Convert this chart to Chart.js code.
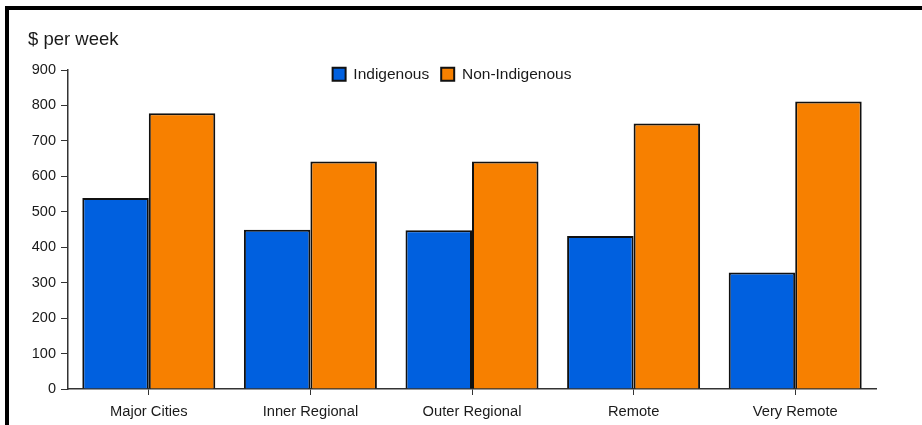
<!DOCTYPE html>
<html>
<head>
<meta charset="utf-8">
<script src="https://cdn.jsdelivr.net/npm/chart.js@4.4.0/dist/chart.umd.min.js"></script>
<style>
  body { margin: 0; background: #fff; }
  #frame {
    position: absolute; left: 5px; top: 6px;
    width: 917px; height: 419px;
    border-top: 4px solid #000; border-left: 4px solid #000;
  }
  #wrap { position: absolute; left: 0; top: 0; width: 913px; height: 415px; }
</style>
</head>
<body>
<div id="frame"><div id="wrap"><canvas id="myChart"></canvas></div></div>
<script>
const categories = ['Major Cities', 'Inner Regional', 'Outer Regional', 'Remote', 'Very Remote'];
const indigenous = [539, 449, 448, 432, 329];
const nonIndigenous = [778, 642, 642, 749, 811];
const yTicks = [0, 100, 200, 300, 400, 500, 600, 700, 800, 900];

const fontFamily = '"Liberation Sans", Arial, sans-serif';
const textColor = '#1a1a1a';

// the legend sits over the top of the plot, so pull it down after layout
const legendDrop = {
    id: 'legendDrop',
    afterLayout(chart) {
        const lg = chart.legend;
        lg.top = 44.5;
        lg.bottom = lg.top + 40;
    }
};

const data = {
    labels: categories,
    datasets: [
        {
            label: 'Indigenous',
            data: indigenous,
            backgroundColor: '#0060df',
            borderColor: '#111',
            borderWidth: 2,
            borderSkipped: 'bottom'
        },
        {
            label: 'Non-Indigenous',
            data: nonIndigenous,
            backgroundColor: '#f78000',
            borderColor: '#111',
            borderWidth: 2,
            borderSkipped: 'bottom'
        }
    ]
};

const config = {
    type: 'bar',
    data: data,
    plugins: [legendDrop],
    options: {
        responsive: true,
        maintainAspectRatio: false,
        animation: false,
        categoryPercentage: 0.823,
        barPercentage: 1,
        layout: { padding: { left: 19, right: 46, top: 0, bottom: 0 } },
        plugins: {
            title: {
                display: true,
                text: '$ per week',
                align: 'start',
                color: textColor,
                font: { family: fontFamily, size: 18.5, weight: 'normal' },
                padding: { top: 19, bottom: 17.8 }
            },
            legend: {
                position: 'top',
                align: 'center',
                maxHeight: 1,
                labels: {
                    boxWidth: 13,
                    boxHeight: 13,
                    padding: 12,
                    color: textColor,
                    font: { family: fontFamily, size: 15.5 }
                }
            },
            tooltip: { enabled: false }
        },
        scales: {
            x: {
                grid: { display: true, drawOnChartArea: false, offset: false, tickLength: 6, color: '#333' },
                border: { display: true, color: '#333', width: 1.5 },
                ticks: { color: textColor, padding: 8, font: { family: fontFamily, size: 14.7 } },
                afterFit(scale) { scale.height = 36; }
            },
            y: {
                min: 0,
                max: 900,
                afterBuildTicks(scale) { scale.ticks = yTicks.map(v => ({ value: v })); },
                grid: { display: true, drawOnChartArea: false, tickLength: 7, color: '#333' },
                border: { display: true, color: '#333', width: 1.5 },
                ticks: { color: textColor, padding: 5, font: { family: fontFamily, size: 14.5 } },
                afterFit(scale) { scale.width = 40; }
            }
        }
    }
};

let myChart = new Chart(document.getElementById('myChart'), config);
</script>
</body>
</html>
